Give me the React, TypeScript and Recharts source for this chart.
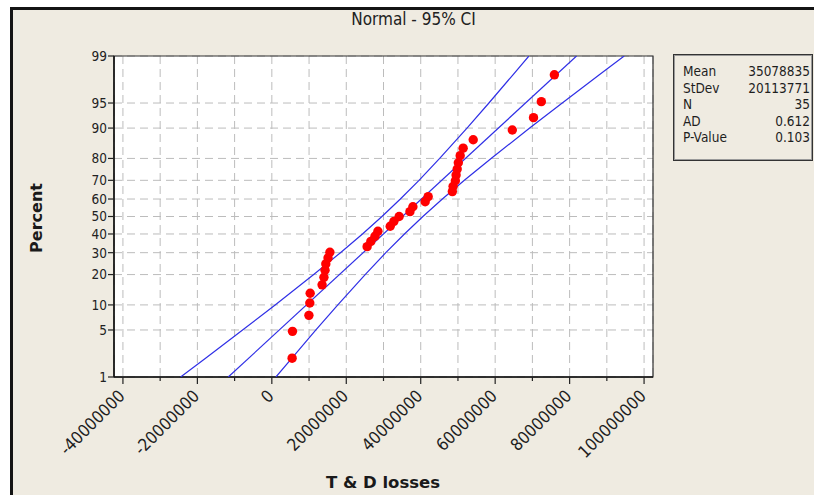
import React from 'react';
import { ScatterChart, Scatter, XAxis, YAxis, CartesianGrid, ReferenceArea } from 'recharts';

const FONT = "'DejaVu Sans Condensed', 'Liberation Sans Narrow', 'DejaVu Sans', sans-serif";
const BOLD_FONT = "'DejaVu Sans', 'Liberation Sans', sans-serif";

// Observed T & D losses (millions), sorted
const pointValuesM = [5.45, 5.55, 9.96, 10.2, 10.3, 13.5, 14.0, 14.3, 14.5, 15.1, 15.6, 25.6, 26.6, 27.7, 28.5, 31.8, 32.8, 34.2, 37.1, 37.9, 41.2, 42.0, 48.5, 48.7, 49.3, 49.5, 49.8, 50.1, 50.6, 51.4, 54.1, 64.6, 70.3, 72.4, 75.9];
// Plotted percent for each point (median ranks)
const pointPercents = [2.0, 4.8, 7.6, 10.5, 13.3, 16.1, 18.9, 21.8, 24.6, 27.4, 30.2, 33.1, 35.9, 38.7, 41.5, 44.4, 47.2, 50.0, 52.8, 55.6, 58.5, 61.3, 64.1, 66.9, 69.8, 72.6, 75.4, 78.2, 81.1, 83.9, 86.7, 89.5, 92.4, 95.2, 98.0];

// Fitted line (millions) at percents
const fitPercents = [1, 99];
const fitValuesM = [-11.7, 81.86];

// 95% confidence band (millions)
const ciPercents = [1, 2, 5, 10, 20, 30, 40, 50, 60, 70, 80, 90, 95, 98, 99];
const ciLowerM = [-24.5, -17.8, -7.86, 0.89, 11.25, 18.44, 24.35, 29.58, 34.53, 39.54, 45.09, 52.43, 58.32, 64.78, 69.06];
const ciUpperM = [1.1, 5.4, 11.84, 17.73, 25.07, 30.62, 35.63, 40.58, 45.81, 51.72, 58.91, 69.27, 78.02, 87.98, 94.66];

// Axis ticks
const xMajorTicks = [-40e6, -20e6, 0, 20e6, 40e6, 60e6, 80e6, 100e6];
const xTickLabels = ['-40000000', '-20000000', '0', '20000000', '40000000', '60000000', '80000000', '100000000'];
const xMinorTicks = [-30e6, -10e6, 10e6, 30e6, 50e6, 70e6, 90e6];
const yTickPercents = [1, 5, 10, 20, 30, 40, 50, 60, 70, 80, 90, 95, 99];
const yTickLabels = ['1', '5', '10', '20', '30', '40', '50', '60', '70', '80', '90', '95', '99'];

// Summary table
const statLabels = ['Mean', 'StDev', 'N', 'AD', 'P-Value'];
const statValues = ['35078835', '20113771', '35', '0.612', '0.103'];

// Inverse standard normal CDF (probability-scale transform)
function probit(p: number): number {
  const a = [-3.969683028665376e1, 2.209460984245205e2, -2.759285104469687e2, 1.38357751867269e2, -3.066479806614716e1, 2.506628277459239];
  const b = [-5.447609879822406e1, 1.615858368580409e2, -1.556989798598866e2, 6.680131188771972e1, -1.328068155288572e1];
  const c = [-7.784894002430293e-3, -3.223964580411365e-1, -2.400758277161838, -2.549732539343734, 4.374664141464968, 2.938163982698783];
  const d = [7.784695709041462e-3, 3.224671290700398e-1, 2.445134137142996, 3.754408661907416];
  const plow = 0.02425;
  if (p < plow) {
    const q = Math.sqrt(-2 * Math.log(p));
    return (((((c[0] * q + c[1]) * q + c[2]) * q + c[3]) * q + c[4]) * q + c[5]) / ((((d[0] * q + d[1]) * q + d[2]) * q + d[3]) * q + 1);
  }
  if (p <= 1 - plow) {
    const q = p - 0.5;
    const r = q * q;
    return ((((((a[0] * r + a[1]) * r + a[2]) * r + a[3]) * r + a[4]) * r + a[5]) * q) / (((((b[0] * r + b[1]) * r + b[2]) * r + b[3]) * r + b[4]) * r + 1);
  }
  const q = Math.sqrt(-2 * Math.log(1 - p));
  return -(((((c[0] * q + c[1]) * q + c[2]) * q + c[3]) * q + c[4]) * q + c[5]) / ((((d[0] * q + d[1]) * q + d[2]) * q + d[3]) * q + 1);
}

const points = pointValuesM.map((v, i) => ({ x: v * 1e6, z: probit(pointPercents[i] / 100) }));
const fitData = fitValuesM.map((v, i) => ({ x: v * 1e6, z: probit(fitPercents[i] / 100) }));
const ciLowerData = ciLowerM.map((v, i) => ({ x: v * 1e6, z: probit(ciPercents[i] / 100) }));
const ciUpperData = ciUpperM.map((v, i) => ({ x: v * 1e6, z: probit(ciPercents[i] / 100) }));

const xTicks = [...xMajorTicks, ...xMinorTicks].sort((p, q) => p - q);
const yTicks = yTickPercents.map((p) => probit(p / 100));
const X_DOMAIN: [number, number] = [-42.4e6, 102.4e6];
const Y_DOMAIN: [number, number] = [probit(0.01), probit(0.99)];

const BLUE = '#2f2fe6';

const XTick = (props: any) => {
  const { x, y, payload } = props;
  const idx = xMajorTicks.indexOf(payload.value);
  const major = idx >= 0;
  return (
    <g>
      <line x1={x} x2={x} y1={y} y2={y + (major ? 7 : 4)} stroke="#222" strokeWidth={1.2} />
      {major && (
        <text
          x={x + 3}
          y={y + 20}
          textAnchor="end"
          transform={`rotate(-45 ${x + 3} ${y + 20})`}
          fontFamily={FONT}
          fontSize={17}
          fill="#1e1e1e"
        >
          {xTickLabels[idx]}
        </text>
      )}
    </g>
  );
};

const YTick = (props: any) => {
  const { x, y, index } = props;
  return (
    <g>
      <line x1={x - 6} x2={x} y1={y} y2={y} stroke="#222" strokeWidth={1.2} />
      <text x={x - 7} y={y} dy="0.36em" textAnchor="end" fontFamily={FONT} fontSize={13.5} fill="#222">
        {yTickLabels[index]}
      </text>
    </g>
  );
};

const NoShape = () => <g />;
const Dot = (p: any) => <circle cx={p.cx} cy={p.cy} r={4.7} fill="#ff0000" />;

export default function App() {
  return (
    <div style={{ position: 'fixed', left: 0, top: 0, width: 814, height: 495, background: '#ffffff', overflow: 'hidden' }}>
      <div
        style={{
          position: 'absolute',
          left: 10,
          top: 7,
          width: 804,
          height: 488,
          borderLeft: '3px solid #141414',
          borderTop: '3px solid #141414',
          background: '#efebe1',
        }}
      />
      <div style={{ position: 'absolute', left: 0, top: 0 }}>
        <ScatterChart width={814} height={495} margin={{ top: 56, right: 161, bottom: 0, left: 0 }}>
          <CartesianGrid fill="#ffffff" stroke="#bcbcbc" strokeDasharray="8 5" />
          <XAxis
            type="number"
            dataKey="x"
            domain={X_DOMAIN}
            ticks={xTicks}
            interval={0}
            allowDataOverflow
            tickSize={0}
            tickMargin={0}
            tickLine={false}
            tick={(p: any) => <XTick {...p} />}
            height={118}
            axisLine={{ stroke: '#111', strokeWidth: 1.5 }}
          />
          <YAxis
            type="number"
            dataKey="z"
            domain={Y_DOMAIN}
            ticks={yTicks}
            interval={0}
            allowDataOverflow
            tickSize={0}
            tickMargin={0}
            tickLine={false}
            tick={(p: any) => <YTick {...p} />}
            width={114}
            axisLine={{ stroke: '#111', strokeWidth: 1.5 }}
          />
          <ReferenceArea x1={X_DOMAIN[0]} x2={X_DOMAIN[1]} y1={Y_DOMAIN[0]} y2={Y_DOMAIN[1]} fill="none" stroke="#333" strokeWidth={1.2} ifOverflow="visible" />
          <Scatter data={ciLowerData} line={{ stroke: BLUE, strokeWidth: 1.2 }} shape={NoShape} isAnimationActive={false} />
          <Scatter data={ciUpperData} line={{ stroke: BLUE, strokeWidth: 1.2 }} shape={NoShape} isAnimationActive={false} />
          <Scatter data={fitData} line={{ stroke: BLUE, strokeWidth: 1.2 }} shape={NoShape} isAnimationActive={false} />
          <Scatter data={points} shape={Dot} isAnimationActive={false} />
        </ScatterChart>
      </div>
      <div
        style={{
          position: 'absolute',
          left: 13,
          top: 9,
          width: 801,
          textAlign: 'center',
          fontFamily: FONT,
          fontSize: 17,
          lineHeight: '20px',
          color: '#222',
        }}
      >
        Normal - 95% CI
      </div>
      <div
        style={{
          position: 'absolute',
          left: 36,
          top: 218,
          transform: 'translate(-50%, -50%) rotate(-90deg)',
          fontFamily: BOLD_FONT,
          fontWeight: 'bold',
          fontSize: 16,
          color: '#1a1a1a',
          whiteSpace: 'nowrap',
        }}
      >
        Percent
      </div>
      <div
        style={{
          position: 'absolute',
          left: 383,
          top: 482,
          transform: 'translate(-50%, -50%)',
          fontFamily: BOLD_FONT,
          fontWeight: 'bold',
          fontSize: 16.5,
          color: '#1a1a1a',
          whiteSpace: 'nowrap',
        }}
      >
        T &amp; D losses
      </div>
      <div
        style={{
          position: 'absolute',
          left: 673,
          top: 54,
          width: 138,
          height: 105,
          border: '1px solid #333',
          boxShadow: 'inset 0 0 0 1px #9a9a9a',
          background: '#efebe1',
          fontFamily: FONT,
          fontSize: 13.5,
          color: '#1e1e1e',
          boxSizing: 'content-box',
        }}
      >
        {statLabels.map((l, i) => (
          <div
            key={l}
            style={{
              position: 'absolute',
              left: 9,
              right: 2,
              top: 8 + i * 16.5,
              height: 16.5,
              lineHeight: '16.5px',
              display: 'flex',
              justifyContent: 'space-between',
            }}
          >
            <span>{l}</span>
            <span>{statValues[i]}</span>
          </div>
        ))}
      </div>
    </div>
  );
}
